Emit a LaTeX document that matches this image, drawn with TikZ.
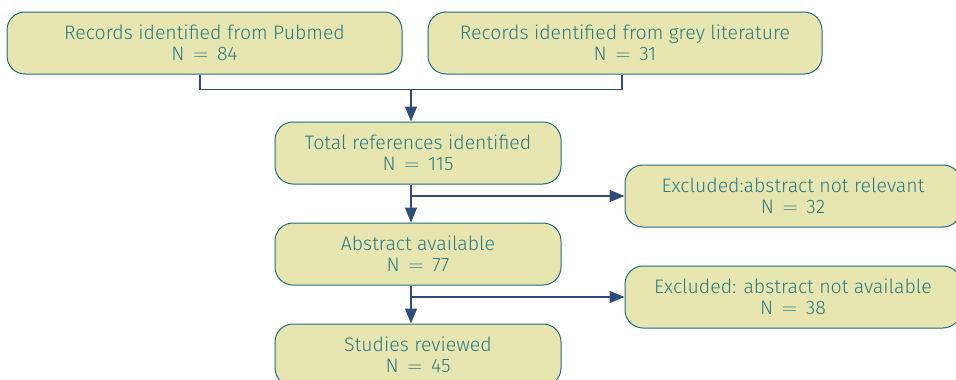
\documentclass[tikz,border=0pt]{standalone}
\usepackage{fontspec}
\setmainfont{Fira Sans Light}
\usetikzlibrary{arrows.meta}
\definecolor{boxfill}{HTML}{E8E6B0}
\definecolor{boxdraw}{HTML}{1D6E80}
\definecolor{boxtext}{HTML}{2A7A85}
\definecolor{linecol}{HTML}{2F4D78}
\newcommand{\cnt}[1]{N\hspace{0.45em}$=$\hspace{0.45em}#1}
\tikzset{
  flowbox/.style={draw=boxdraw, fill=boxfill, line width=1pt, rounded corners=18pt,
    minimum height=62pt, align=center, text=boxtext, inner sep=0pt,
    font=\fontsize{19.5}{21}\selectfont},
  flowline/.style={draw=linecol, line width=1.2pt},
  flowarrow/.style={flowline, -{Triangle[length=15pt,width=12pt]}},
}
\begin{document}
\begin{tikzpicture}[x=1pt,y=-1pt]
\useasboundingbox (0,0) rectangle (956,380);
\begin{scope}
\clip (0,0) rectangle (956,380);
\node[flowbox, minimum width=395pt] (b1) at (204.5,43) {Records identified from Pubmed\\\cnt{84}};
\node[flowbox, minimum width=394pt] (b2) at (625,43) {Records identified from grey literature\\\cnt{31}};
\node[flowbox, minimum width=286pt] (b3) at (418,153) {Total references identified\\\cnt{115}};
\node[flowbox, minimum width=336pt] (b4) at (793,196) {Excluded:abstract not relevant\\\cnt{32}};
\node[flowbox, minimum width=286pt] (b5) at (418,254) {Abstract available\\\cnt{77}};
\node[flowbox, minimum width=336pt] (b6) at (793,297) {Excluded: abstract not available\\\cnt{38}};
\node[flowbox, minimum width=286pt] (b7) at (418,355) {Studies reviewed\\\cnt{45}};
\coordinate (j1) at (411,89.5);
\coordinate (j2) at (411,196);
\coordinate (j3) at (411,297);
\draw[flowline] (b1.south -| 200,0) |- (j1) -| (b2.south -| 622,0);
\draw[flowarrow] (j1) -- (j1 |- b3.north);
\draw[flowarrow] (b3.south -| j2) -- (j2 |- b5.north);
\draw[flowarrow] (j2) -- (b4.west);
\draw[flowarrow] (b5.south -| j3) -- (j3 |- b7.north);
\draw[flowarrow] (j3) -- (b6.west);
\end{scope}
\end{tikzpicture}
\end{document}
